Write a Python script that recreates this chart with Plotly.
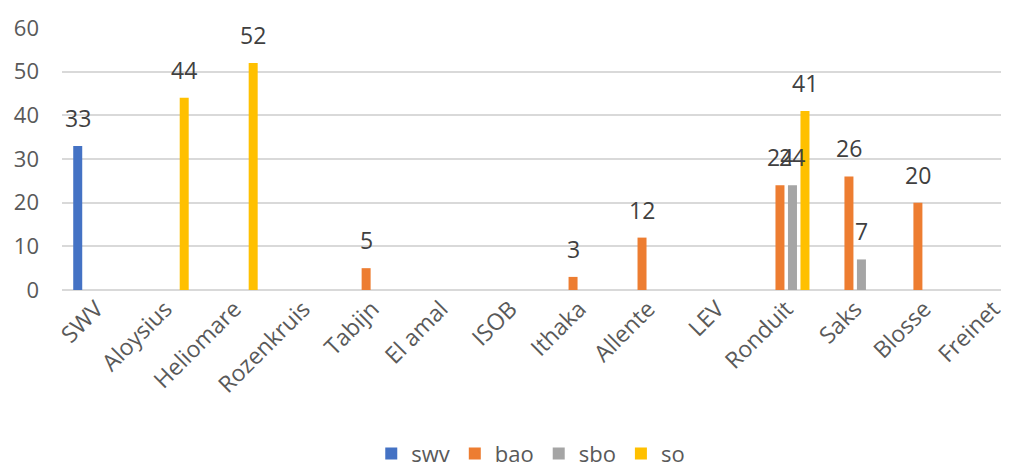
import plotly.graph_objects as go

categories = ["SWV", "Aloysius", "Heliomare", "Rozenkruis", "Tabijn", "El amal", "ISOB",
              "Ithaka", "Allente", "LEV", "Ronduit", "Saks", "Blosse", "Freinet"]
swv = [33, None, None, None, None, None, None, None, None, None, None, None, None, None]
bao = [None, None, None, None, 5, None, None, 3, 12, None, 24, 26, 20, None]
sbo = [None, None, None, None, None, None, None, None, None, None, 24, 7, None, None]
so = [None, 44, 52, None, None, None, None, None, None, None, 41, None, None, None]

series = [("swv", swv, "#4472C4"), ("bao", bao, "#ED7D31"),
          ("sbo", sbo, "#A5A5A5"), ("so", so, "#FFC000")]

FONT = "Open Sans"
bargap = 0.275
n = len(series)

fig = go.Figure()
annotations = []
for k, (name, vals, col) in enumerate(series):
    fig.add_trace(go.Bar(name=name, x=categories, y=vals, marker_color=col,
                         marker_line_width=0))
    slot = (1 - bargap) / n
    for i, v in enumerate(vals):
        if v is not None:
            annotations.append(dict(
                x=i - (1 - bargap) / 2 + slot * (k + 0.5), y=v, xref="x", yref="y",
                text=str(v), showarrow=False, yanchor="middle", yshift=28,
                font=dict(family=FONT, size=23, color="#404040")))

fig.update_layout(
    barmode="group", bargap=bargap, bargroupgap=0.28,
    width=1001, height=460,
    margin=dict(l=54, r=0, t=20, b=178, autoexpand=False),
    plot_bgcolor="white", paper_bgcolor="white",
    font=dict(family=FONT, color="#595959", size=20),
    annotations=annotations,
    legend=dict(orientation="h", x=0.495, xanchor="center", y=-0.625, yanchor="middle",
                font=dict(size=22, color="#595959"), itemwidth=30, traceorder="normal",
                itemsizing="constant"),
    xaxis=dict(type="category", range=[-0.5, 13.23], tickangle=-45, showgrid=False,
               showline=False, ticks="", automargin=False,
               tickfont=dict(size=23, color="#595959")),
    yaxis=dict(range=[0, 60], dtick=10, showgrid=True, gridcolor="#D9D9D9", gridwidth=1.5,
               zeroline=True, zerolinecolor="#D9D9D9", zerolinewidth=1.5, automargin=False,
               ticks="", ticklabelstandoff=22, tickfont=dict(size=22, color="#595959")),
)

fig.write_html("out.html")
